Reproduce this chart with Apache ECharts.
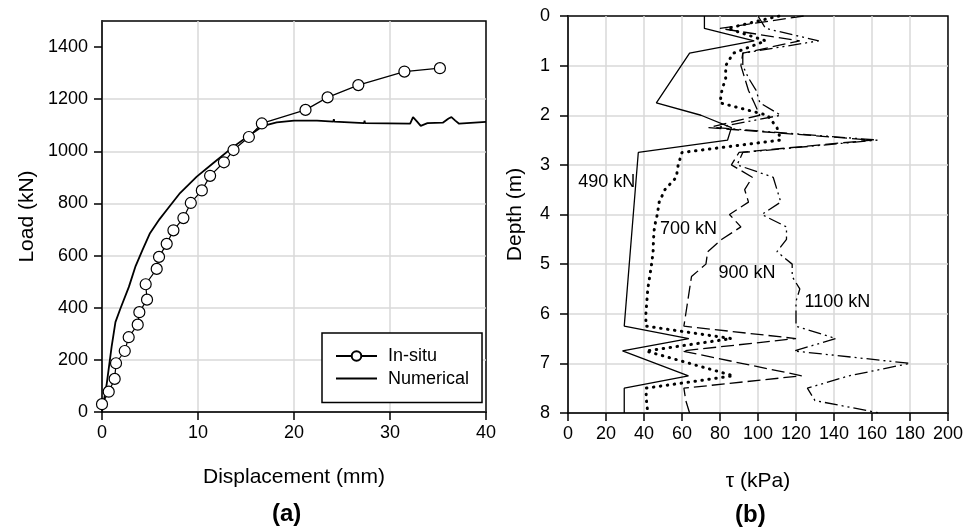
<!DOCTYPE html>
<html>
<head>
<meta charset="utf-8">
<script src="https://cdn.jsdelivr.net/npm/echarts@6/dist/echarts.min.js"></script>
<style>
html,body{margin:0;padding:0;background:#fff;}
#chart{width:966px;height:529px;}
</style>
</head>
<body>
<div id="chart"></div>
<script>
// ---------- (a) Load - displacement ----------
const dispInsitu = [0, 0.7, 1.32, 1.46, 2.37, 2.78, 3.72, 3.89, 4.69, 4.55, 5.7, 5.94, 6.74, 7.44, 8.48, 9.25, 10.4, 11.26, 12.7, 13.7, 15.3, 16.65, 21.2, 23.5, 26.7, 31.5, 35.2];
const loadInsitu = [30, 78, 127, 187, 234, 287, 335, 383, 431, 490, 549, 595, 645, 697, 744, 802, 850, 906, 958, 1005, 1055, 1107, 1159, 1207, 1254, 1306, 1319];

const dispNum = [0, 0.5, 1.0, 1.4, 1.9, 2.8, 3.5, 4.2, 5.0, 6.0, 6.74, 8.13, 9.87, 11.6, 13.7, 15.4, 16.8, 18.2, 20, 22.4, 24.1, 24.15, 24.2, 27.3, 27.35, 27.4, 32.1, 32.4, 32.8, 33.2, 33.9, 35.5, 36.1, 36.4, 36.8, 37.2, 40];
const loadNum = [0, 110, 250, 345, 395, 480, 560, 620, 686, 740, 775, 840, 903, 955, 1018, 1063, 1098, 1111, 1118, 1118, 1114, 1123, 1114, 1108, 1118, 1108, 1106, 1131, 1115, 1098, 1108, 1110, 1126, 1131, 1118, 1106, 1113];

const loadTicks = [0, 200, 400, 600, 800, 1000, 1200, 1400];
const dispTicks = [0, 10, 20, 30, 40];

// ---------- (b) Shear stress - depth ----------
const depth490 = [0, 0.25, 0.5, 0.75, 1.75, 2, 2.25, 2.5, 2.75, 6.25, 6.5, 6.75, 7.25, 7.5, 8];
const tau490   = [71.8, 71.8, 98, 64, 46.5, 70, 86, 84, 37, 29.6, 63.6, 28.7, 63.4, 29.6, 29.6];

const depth700 = [0, 0.25, 0.5, 0.75, 1, 1.25, 1.5, 1.75, 2, 2.25, 2.5, 2.75, 3, 3.25, 3.5, 3.75, 4, 4.25, 4.5, 4.75, 5, 5.25, 5.5, 5.75, 6, 6.25, 6.5, 6.75, 7.25, 7.5, 7.75, 8];
const tau700   = [111, 84, 104, 87, 83, 83, 81, 80, 105, 110, 112, 60, 58, 57, 51, 48, 47, 45.5, 45, 44.8, 44, 43, 42, 41.5, 41, 41, 86, 41, 87, 41, 41.3, 42];

const depth900 = [0, 0.25, 0.5, 0.75, 1, 1.25, 1.5, 1.75, 2, 2.25, 2.5, 2.75, 3, 3.25, 3.5, 3.75, 4, 4.25, 4.5, 4.75, 5, 5.25, 5.5, 5.75, 6, 6.25, 6.5, 6.75, 7.25, 7.5, 7.75, 8];
const tau900   = [124, 80, 122, 92, 91, 93, 95, 98, 101, 74, 160, 90, 86, 97, 93, 95, 85, 91, 81, 73.5, 72.6, 65, 64, 63, 62, 61, 120, 60, 123, 61, 62, 64];

const depth1100 = [0, 0.25, 0.5, 0.75, 1, 1.25, 1.5, 1.75, 2, 2.25, 2.5, 2.75, 3, 3.25, 3.5, 3.75, 4, 4.25, 4.5, 4.75, 5, 5.25, 5.5, 5.75, 6, 6.25, 6.5, 6.75, 7, 7.25, 7.5, 7.75, 8];
const tau1100   = [100, 104, 132, 92, 92, 95, 99, 101, 112, 78, 163, 92, 89, 108, 110, 112, 102, 115, 115, 110, 118, 118, 122, 120, 120, 120, 141, 119, 180, 148, 126, 130, 164];

const loadLabels = ['490 kN', '700 kN', '900 kN', '1100 kN'];
const labelTau   = [20.4, 63.4, 94.2, 141.8];
const labelDepth = [3.34, 4.3, 5.18, 5.77];

const FONT = 'Liberation Sans, Arial, Helvetica, sans-serif';
const GRIDC = '#d9d9d9';

function pairs(xs, ys) { return xs.map((x, i) => [x, ys[i]]); }
const plain = v => String(v);

const chart = echarts.init(document.getElementById('chart'), null, {renderer: 'canvas'});

function axisCommon(extra) {
  return Object.assign({
    type: 'value',
    axisLine: {show: true, onZero: false, lineStyle: {color: '#000', width: 1.5}},
    axisTick: {show: true, length: 8, inside: false, lineStyle: {color: '#000', width: 1.5}},
    axisLabel: {fontSize: 18, color: '#000', fontFamily: FONT, formatter: plain},
    splitLine: {show: true, lineStyle: {color: GRIDC, width: 1.5}},
    nameLocation: 'middle',
    nameTextStyle: {fontSize: 21, color: '#000', fontFamily: FONT}
  }, extra);
}

const rightSeries = [
  {d: depth490, t: tau490, style: {type: 'solid', width: 1.3}},
  {d: depth700, t: tau700, style: {type: [0.5, 6.5], width: 3, cap: 'round'}},
  {d: depth900, t: tau900, style: {type: [13, 5], width: 1.3}},
  {d: depth1100, t: tau1100, style: {type: [13, 4, 2, 4, 2, 4], width: 1.3}}
].map((s, i) => ({
  type: 'line',
  xAxisIndex: 1, yAxisIndex: 1,
  data: pairs(s.t, s.d),
  showSymbol: false, symbol: 'none',
  lineStyle: Object.assign({color: '#000'}, s.style),
  z: 3,
  markPoint: {
    symbol: 'circle', symbolSize: 1,
    itemStyle: {color: 'rgba(0,0,0,0)'},
    label: {show: true, position: 'inside', formatter: loadLabels[i], fontSize: 18, color: '#000', fontFamily: FONT},
    data: [{coord: [labelTau[i], labelDepth[i]]}]
  }
}));

const option = {
  animation: false,
  backgroundColor: '#fff',
  textStyle: {fontFamily: FONT},
  grid: [
    {left: 102, top: 21, right: 480, bottom: 117, show: true, borderColor: '#000', borderWidth: 1.5, backgroundColor: 'rgba(0,0,0,0)'},
    {left: 568, top: 16, right: 16, bottom: 116, show: true, borderColor: '#000', borderWidth: 1.5, backgroundColor: 'rgba(0,0,0,0)'}
  ],
  xAxis: [
    axisCommon({gridIndex: 0, min: 0, max: 40, interval: 10, name: 'Displacement (mm)', nameGap: 55,
      axisLabel: {fontSize: 18, color: '#000', margin: 12, fontFamily: FONT, formatter: plain, customValues: dispTicks},
      axisTick: {show: true, length: 8, lineStyle: {color: '#000', width: 1.5}, customValues: dispTicks},
      splitLine: {show: true, showMaxLine: false, lineStyle: {color: GRIDC, width: 1.5}}}),
    axisCommon({gridIndex: 1, min: 0, max: 200, interval: 20, name: 'τ (kPa)', nameGap: 58,
      axisLabel: {fontSize: 18, color: '#000', margin: 12, fontFamily: FONT, formatter: plain},
      splitLine: {show: true, showMaxLine: false, lineStyle: {color: GRIDC, width: 1.5}}})
  ],
  yAxis: [
    axisCommon({gridIndex: 0, min: 0, max: 1500, interval: 200, name: 'Load (kN)', nameGap: 64,
      axisLabel: {fontSize: 18, color: '#000', margin: 14, fontFamily: FONT, formatter: plain, customValues: loadTicks},
      axisTick: {show: true, length: 8, lineStyle: {color: '#000', width: 1.5}, customValues: loadTicks},
      splitLine: {show: true, showMaxLine: false, lineStyle: {color: GRIDC, width: 1.5}}}),
    axisCommon({gridIndex: 1, min: 0, max: 8, interval: 1, inverse: true, name: 'Depth (m)', nameGap: 42,
      axisLabel: {fontSize: 18, color: '#000', margin: 18, fontFamily: FONT, formatter: plain},
      splitLine: {show: true, showMinLine: false, lineStyle: {color: GRIDC, width: 1.5}}})
  ],
  legend: {
    orient: 'vertical', left: 322, top: 333,
    padding: [14, 13, 15, 13], itemGap: 4.6, itemWidth: 41, itemHeight: 12,
    borderColor: '#000', borderWidth: 1.5, backgroundColor: '#fff',
    textStyle: {fontSize: 18, color: '#000', fontFamily: FONT, padding: [0, 0, 0, 6], lineHeight: 18},
    data: [
      {name: 'In-situ'},
      {name: 'Numerical', itemStyle: {opacity: 0, borderWidth: 0}}
    ]
  },
  series: [
    {
      name: 'Numerical', type: 'line', xAxisIndex: 0, yAxisIndex: 0,
      data: pairs(dispNum, loadNum), showSymbol: false, symbol: 'none',
      lineStyle: {color: '#000', width: 1.8}, itemStyle: {color: '#000'}, z: 3
    },
    {
      name: 'In-situ', type: 'line', xAxisIndex: 0, yAxisIndex: 0,
      data: pairs(dispInsitu, loadInsitu), symbol: 'circle', symbolSize: 11, showSymbol: true,
      lineStyle: {color: '#000', width: 1.2},
      itemStyle: {color: '#fff', borderColor: '#000', borderWidth: 1.2}, z: 4
    }
  ].concat(rightSeries),
  graphic: [
    {type: 'text', left: 272, top: 502, style: {text: '(a)', font: 'bold 24px ' + FONT, fill: '#000'}},
    {type: 'text', left: 735, top: 503, style: {text: '(b)', font: 'bold 24px ' + FONT, fill: '#000'}}
  ]
};
chart.setOption(option);
</script>
</body>
</html>
